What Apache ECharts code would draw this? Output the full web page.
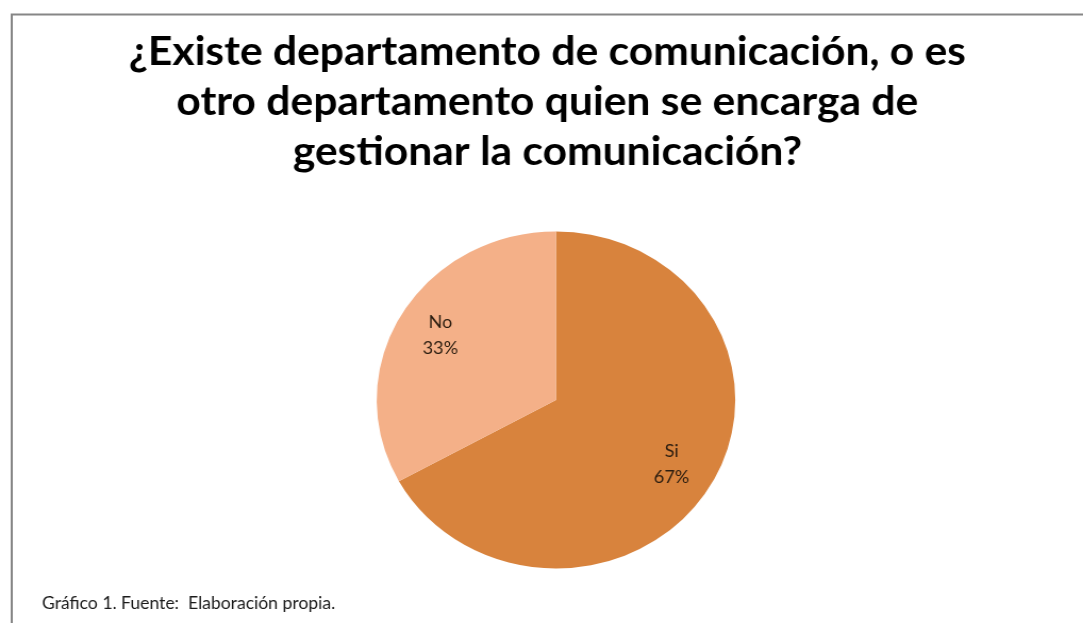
<!DOCTYPE html>
<html>
<head>
<meta charset="utf-8">
<script src="https://cdn.jsdelivr.net/npm/echarts@6/dist/echarts.min.js"></script>
<style>
  html, body { margin: 0; padding: 0; background: #fff; overflow: hidden; }
  /* the figure is laid out slightly narrower, then widened to fill the page */
  #chart { width: 1018px; height: 623px; transform: scaleX(1.0639); transform-origin: 0 0; }
</style>
</head>
<body>
<div id="chart"></div>
<script>
// Survey answers and their share of responses (%)
const categories = ['Si', 'No'];
const shares = [67, 33];
const sliceColors = ['#D8833D', '#F4B088'];

const titleText = '¿Existe departamento de comunicación, o es\notro departamento quien se encarga de\ngestionar la comunicación?';
const captionText = 'Gráfico 1. Fuente:  Elaboración propia.';

const pieData = categories.map((name, i) => ({
  name: name,
  value: shares[i],
  itemStyle: { color: sliceColors[i] }
}));

const chart = echarts.init(document.getElementById('chart'), null, { renderer: 'canvas' });

const pieCenter = [522.6, 400];
const pieRadius = 168.5;

chart.setOption({
  animation: false,
  backgroundColor: '#ffffff',
  title: {
    text: titleText,
    left: 509.5,
    top: 22,
    textAlign: 'center',
    textStyle: {
      fontFamily: 'Lato',
      fontWeight: 'bold',
      fontSize: 40,
      lineHeight: 50,
      color: '#000000'
    }
  },
  graphic: [
    {
      type: 'rect',
      left: 8.5,
      top: 12,
      shape: { width: 1200, height: 700 },
      style: { fill: 'none', stroke: '#868686', lineWidth: 2 },
      silent: true
    },
    {
      type: 'text',
      left: 39.5,
      top: 595,
      style: {
        text: captionText,
        font: '16.5px Lato',
        fill: '#1a1a1a'
      }
    }
  ],
  series: [
    {
      // filled slices
      type: 'pie',
      center: pieCenter,
      radius: pieRadius,
      startAngle: 90,
      clockwise: true,
      silent: true,
      label: { show: false },
      labelLine: { show: false },
      data: pieData
    },
    {
      // transparent ring carrying the category / percent labels
      type: 'pie',
      center: pieCenter,
      radius: [78, pieRadius],
      startAngle: 90,
      clockwise: true,
      silent: true,
      itemStyle: { color: 'rgba(0,0,0,0)' },
      label: {
        show: true,
        position: 'inside',
        formatter: p => p.name + '\n' + p.value + '%',
        fontFamily: 'Lato',
        fontSize: 17,
        lineHeight: 26,
        color: '#2b1d10'
      },
      labelLine: { show: false },
      data: categories.map((name, i) => ({ name: name, value: shares[i] }))
    }
  ]
});
</script>
</body>
</html>
